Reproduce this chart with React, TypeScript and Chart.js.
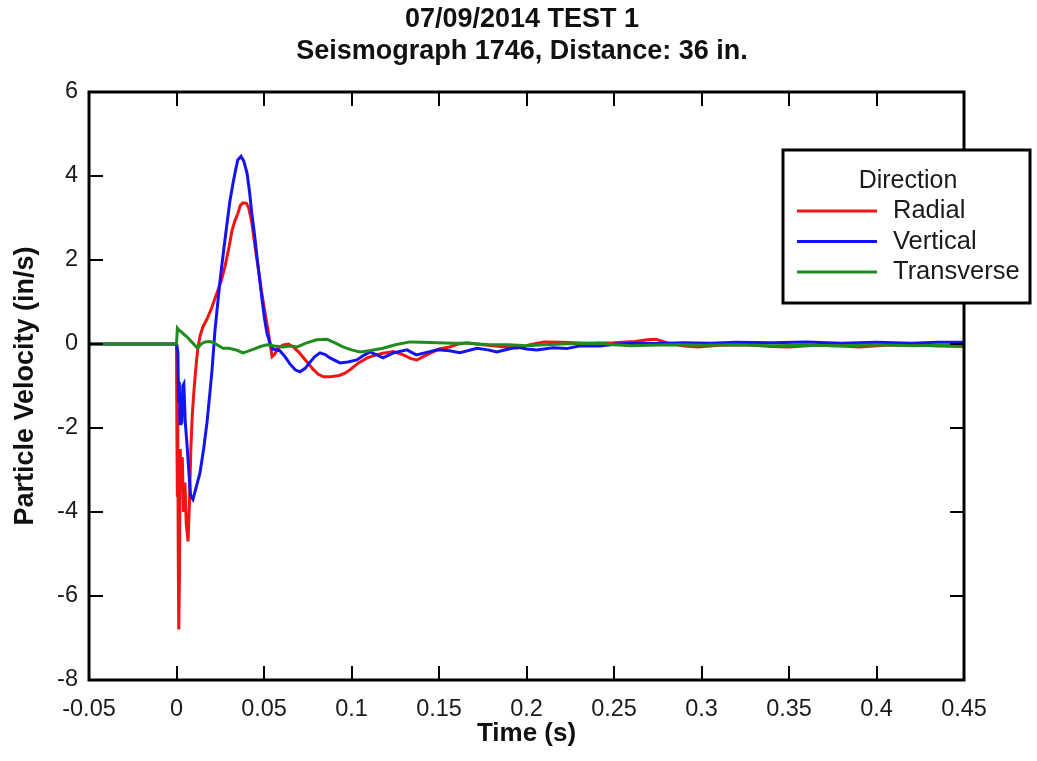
import React, { useEffect, useRef } from "react";
import { Chart, registerables } from "chart.js";

Chart.register(...registerables);

const TITLE_LINES = ["07/09/2014 TEST 1", "Seismograph 1746, Distance: 36 in."];
const X_TITLE = "Time (s)";
const Y_TITLE = "Particle Velocity (in/s)";
const LEGEND_TITLE = "Direction";
const SERIES_LABELS = ["Radial", "Vertical", "Transverse"];
const SERIES_COLORS = ["#f01414", "#1414f0", "#1f8c1f"];

const X_MIN = -0.05;
const X_MAX = 0.45;
const X_STEP = 0.05;
const Y_MIN = -8;
const Y_MAX = 6;
const Y_STEP = 2;

const radialT = [
  -0.05, 0.0, 0.0002, 0.0005, 0.0007, 0.001, 0.0013, 0.0017, 0.0021, 0.0027, 0.0033, 0.004, 0.0048,
  0.0056, 0.0066, 0.0074, 0.0082, 0.009, 0.01, 0.011, 0.0122, 0.0135, 0.015, 0.0175, 0.02, 0.023,
  0.0255, 0.0277, 0.03, 0.0317, 0.0335, 0.035, 0.0365, 0.038, 0.04, 0.0412, 0.043, 0.0448, 0.0466,
  0.0486, 0.0506, 0.0528, 0.0546, 0.056, 0.058, 0.061, 0.064, 0.067, 0.07, 0.074, 0.078, 0.081,
  0.084, 0.088, 0.093, 0.096, 0.099, 0.104, 0.109, 0.114, 0.118, 0.124, 0.129, 0.134, 0.1374, 0.141,
  0.145, 0.15, 0.156, 0.161, 0.166, 0.175, 0.185, 0.1946, 0.202, 0.21, 0.22, 0.235, 0.25, 0.262,
  0.269, 0.274, 0.28, 0.29, 0.298, 0.31, 0.325, 0.34, 0.35, 0.365, 0.38, 0.39, 0.405, 0.42, 0.435,
  0.45,
];
const radialV = [
  0, 0, -2.0, -3.6, -1.5, -5.0, -6.8, -5.5, -2.5, -3.2, -2.7, -4.0, -3.3,
  -4.3, -4.7, -3.8, -2.5, -1.7, -1.1, -0.6, -0.1, 0.2, 0.4, 0.6, 0.85, 1.2,
  1.5, 1.85, 2.3, 2.7, 2.95, 3.1, 3.3, 3.36, 3.35, 3.25, 2.9, 2.35, 1.83,
  1.25, 0.74, 0.2, -0.3, -0.25, -0.1, -0.02, 0.0, -0.08, -0.2, -0.4, -0.6, -0.72,
  -0.78, -0.78, -0.75, -0.7, -0.62, -0.45, -0.33, -0.26, -0.22, -0.18, -0.25, -0.35, -0.38, -0.3,
  -0.22, -0.12, -0.07, 0.0, 0.03, -0.02, -0.06, -0.1, -0.02, 0.05, 0.04, 0.02, 0.03, 0.06,
  0.1, 0.11, 0.03, -0.05, -0.07, -0.03, -0.02, -0.06, -0.07, -0.03, -0.05, -0.07, -0.03, -0.02, -0.05,
  -0.06,
];

const verticalT = [
  -0.05, 0.0, 0.0008, 0.0012, 0.0016, 0.002, 0.0025, 0.003, 0.0036, 0.0042, 0.005, 0.006, 0.007,
  0.008, 0.0094, 0.011, 0.0134, 0.0155, 0.0174, 0.019, 0.0203, 0.022, 0.0235, 0.0249, 0.027, 0.0289,
  0.0305, 0.0323, 0.0338, 0.035, 0.0369, 0.0385, 0.0403, 0.0418, 0.043, 0.0446, 0.046, 0.0475,
  0.0489, 0.0503, 0.0517, 0.0535, 0.055, 0.059, 0.062, 0.0649, 0.068, 0.0706, 0.0735, 0.076, 0.079,
  0.082, 0.085, 0.0877, 0.0934, 0.098, 0.103, 0.107, 0.1106, 0.114, 0.118, 0.124, 0.1317, 0.137,
  0.143, 0.149, 0.156, 0.162, 0.1717, 0.178, 0.183, 0.1946, 0.2, 0.206, 0.215, 0.223, 0.23, 0.242,
  0.252, 0.26, 0.275, 0.29, 0.305, 0.32, 0.34, 0.36, 0.38, 0.4, 0.42, 0.435, 0.45,
];
const verticalV = [
  0, 0, -0.2, -1.4, -0.9, -1.9, -1.2, -1.9, -1.0, -0.95, -1.85, -2.4, -3.0,
  -3.6, -3.7, -3.45, -3.07, -2.5, -1.88, -1.2, -0.62, 0.33, 0.95, 1.52, 2.25, 2.88,
  3.4, 3.83, 4.15, 4.38, 4.47, 4.35, 4.07, 3.6, 3.12, 2.6, 2.07, 1.55,
  1.05, 0.6, 0.26, 0.0, -0.12, -0.16, -0.3, -0.48, -0.62, -0.66, -0.58, -0.45, -0.3,
  -0.21, -0.25, -0.33, -0.45, -0.43, -0.38, -0.27, -0.19, -0.25, -0.33, -0.21, -0.14, -0.26,
  -0.2, -0.14, -0.16, -0.21, -0.1, -0.14, -0.19, -0.07, -0.12, -0.14, -0.09, -0.11, -0.05, -0.05,
  0.0, 0.02, 0.01, 0.03, 0.02, 0.04, 0.03, 0.05, 0.02, 0.04, 0.02, 0.04, 0.04,
];

const transverseT = [
  -0.05, 0.0, 0.0005, 0.0015, 0.003, 0.0045, 0.006, 0.008, 0.0094, 0.012, 0.014, 0.0163, 0.019,
  0.0209, 0.024, 0.0266, 0.03, 0.0346, 0.038, 0.041, 0.0437, 0.048, 0.0517, 0.056, 0.0609, 0.065,
  0.0689, 0.074, 0.08, 0.086, 0.09, 0.0951, 0.1, 0.1049, 0.11, 0.118, 0.125, 0.1334, 0.14, 0.149,
  0.158, 0.166, 0.179, 0.19, 0.2, 0.21, 0.22, 0.23, 0.242, 0.25, 0.26, 0.27, 0.285, 0.3, 0.32, 0.34,
  0.36, 0.38, 0.4, 0.42, 0.435, 0.45,
];
const transverseV = [
  0, 0, 0.38, 0.33, 0.28, 0.22, 0.17, 0.08, 0.02, -0.1, 0.0, 0.05, 0.06,
  0.04, -0.04, -0.1, -0.1, -0.15, -0.21, -0.17, -0.13, -0.06, -0.02, -0.05, -0.07, -0.05,
  -0.07, 0.02, 0.1, 0.11, 0.04, -0.07, -0.14, -0.19, -0.16, -0.1, -0.02, 0.05, 0.04, 0.03,
  0.02, 0.02, -0.02, -0.02, -0.04, -0.02, 0.0, 0.01, 0.02, -0.02, -0.04, -0.03, -0.02, -0.03, -0.02, -0.04,
  -0.03, -0.04, -0.02, -0.04, -0.03, -0.05,
];

const FONT = "'Liberation Sans', Arial, Helvetica, sans-serif";

const toPoints = (t: number[], v: number[]) => t.map((x, i) => ({ x, y: v[i] }));

const framePlugin = {
  id: "frameTicks",
  afterDatasetsDraw(chart: any) {
    const { ctx, chartArea, scales } = chart;
    const { left, right, top, bottom } = chartArea;
    const xs = scales.x;
    const ys = scales.y;
    const len = 14;
    ctx.save();
    ctx.strokeStyle = "#000";
    ctx.lineWidth = 2;
    ctx.beginPath();
    xs.ticks.forEach((t: any) => {
      const px = Math.round(xs.getPixelForValue(t.value));
      ctx.moveTo(px, bottom);
      ctx.lineTo(px, bottom - len);
      ctx.moveTo(px, top);
      ctx.lineTo(px, top + len);
    });
    ys.ticks.forEach((t: any) => {
      const py = Math.round(ys.getPixelForValue(t.value));
      ctx.moveTo(left, py);
      ctx.lineTo(left + len, py);
      ctx.moveTo(right, py);
      ctx.lineTo(right - len, py);
    });
    ctx.stroke();
    ctx.lineWidth = 3;
    ctx.strokeRect(left, top, right - left, bottom - top);
    ctx.restore();
  },
};

const boxLegendPlugin = {
  id: "boxLegend",
  afterDraw(chart: any) {
    const { ctx } = chart;
    const bx = 783;
    const by = 150;
    const bw = 247;
    const bh = 153;
    ctx.save();
    ctx.fillStyle = "#fff";
    ctx.fillRect(bx, by, bw, bh);
    ctx.strokeStyle = "#000";
    ctx.lineWidth = 3;
    ctx.strokeRect(bx, by, bw, bh);
    ctx.fillStyle = "#1a1a1a";
    ctx.font = `25px ${FONT}`;
    ctx.textBaseline = "middle";
    ctx.textAlign = "center";
    ctx.fillText(LEGEND_TITLE, 908, 181);
    ctx.textAlign = "left";
    chart.data.datasets.forEach((ds: any, i: number) => {
      const yy = 211 + i * 30.5;
      ctx.strokeStyle = ds.borderColor;
      ctx.lineWidth = 3;
      ctx.beginPath();
      ctx.moveTo(797, yy);
      ctx.lineTo(877, yy);
      ctx.stroke();
      ctx.fillStyle = "#1a1a1a";
      ctx.font = `25.5px ${FONT}`;
      ctx.fillText(ds.label, 893, yy);
    });
    ctx.restore();
  },
};

export default function App() {
  const ref = useRef<HTMLCanvasElement | null>(null);

  useEffect(() => {
    document.body.style.margin = "0";
    if (!ref.current) return;
    const series = [
      toPoints(radialT, radialV),
      toPoints(verticalT, verticalV),
      toPoints(transverseT, transverseV),
    ];
    const chart = new Chart(ref.current, {
      type: "line",
      data: {
        datasets: series.map((pts, i) => ({
          label: SERIES_LABELS[i],
          data: pts,
          borderColor: SERIES_COLORS[i],
          backgroundColor: SERIES_COLORS[i],
          borderWidth: 3,
          pointRadius: 0,
          tension: 0,
          fill: false,
          order: 3 - i,
        })),
      },
      options: {
        animation: false,
        responsive: true,
        maintainAspectRatio: false,
        layout: { padding: { left: 7, right: 0, top: 0, bottom: 0 } },
        plugins: {
          legend: { display: false },
          tooltip: { enabled: false },
          title: {
            display: true,
            text: TITLE_LINES,
            color: "#111",
            font: { family: FONT, size: 27, weight: "bold", lineHeight: 1.185 },
            padding: { top: 4, bottom: 24 },
          },
        },
        scales: {
          x: {
            type: "linear",
            min: X_MIN,
            max: X_MAX,
            afterFit: (s: any) => {
              s.height = 81;
            },
            ticks: {
              stepSize: X_STEP,
              padding: 15,
              color: "#1a1a1a",
              font: { family: FONT, size: 23.5 },
              maxRotation: 0,
              autoSkip: false,
              callback: (v: any) => String(parseFloat(Number(v).toFixed(2))),
            },
            grid: { display: false, drawTicks: false },
            border: { display: false },
            title: {
              display: true,
              text: X_TITLE,
              color: "#111",
              font: { family: FONT, size: 26, weight: "bold", lineHeight: 1.2 },
              padding: { top: 0, bottom: 12 },
            },
          },
          y: {
            type: "linear",
            min: Y_MIN,
            max: Y_MAX,
            afterFit: (s: any) => {
              s.width = 82;
            },
            ticks: {
              stepSize: Y_STEP,
              padding: 11,
              color: "#1a1a1a",
              font: { family: FONT, size: 23.5 },
              callback: (v: any) => String(v),
            },
            grid: { display: false, drawTicks: false },
            border: { display: false },
            title: {
              display: true,
              text: Y_TITLE,
              color: "#111",
              font: { family: FONT, size: 27, weight: "bold", lineHeight: 1.2 },
              padding: { top: 2, bottom: 0 },
            },
          },
          yRight: {
            type: "linear",
            position: "right",
            display: true,
            afterFit: (s: any) => {
              s.width = 73;
            },
            ticks: { display: false },
            grid: { display: false, drawTicks: false },
            border: { display: false },
          },
        },
      },
      plugins: [framePlugin, boxLegendPlugin],
    } as any);
    return () => chart.destroy();
  }, []);

  return (
    <div style={{ position: "relative", width: 1037, height: 761, background: "#fff" }}>
      <canvas ref={ref} />
    </div>
  );
}
